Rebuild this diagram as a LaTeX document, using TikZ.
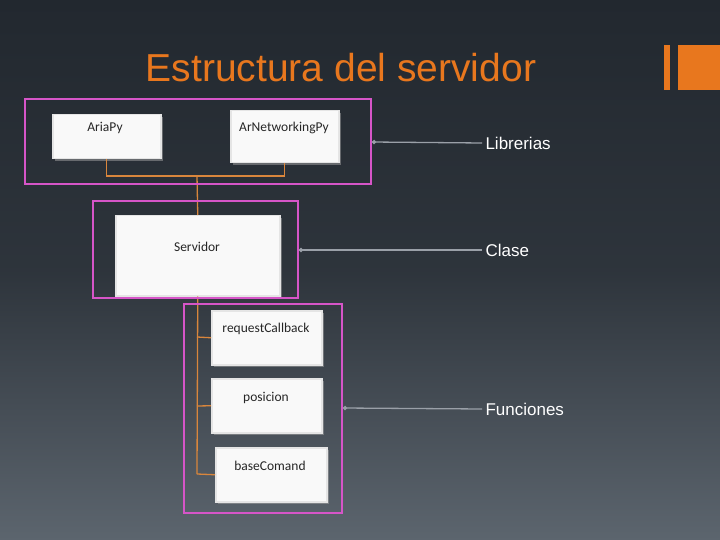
\documentclass[tikz,border=0pt]{standalone}
\usepackage{fontspec}
\setmainfont{Liberation Sans}
\newfontfamily\boxfont{Carlito}
\usetikzlibrary{arrows.meta,shadows}
\definecolor{bgtop}{HTML}{22282F}
\definecolor{bgbot}{HTML}{5C656E}
\definecolor{orng}{HTML}{E8771E}
\definecolor{pink}{HTML}{D655C8}
\definecolor{conn}{HTML}{D9863C}
\definecolor{arr}{HTML}{9AA0A8}
\tikzset{
 item/.style={draw=white!80!gray, line width=1.5pt, fill=white!95!gray, minimum width=#1, anchor=north west, drop shadow={shadow xshift=2pt, shadow yshift=-2pt, fill=gray!70}},
 itxt/.style={font=\boxfont\fontsize{13.5}{15}\selectfont, text=black!85, inner sep=0},
 grp/.style={draw=pink, line width=2.2pt},
 link/.style={conn, line width=1.3pt},
 pointer/.style={arr, line width=1.3pt, -{Circle[length=4pt]}},
 lbl/.style={anchor=west, text=white, font=\fontsize{17}{19}\selectfont}
}
\begin{document}
\begin{tikzpicture}[x=1pt,y=-1pt]
\shade[top color=bgtop, bottom color=bgbot, middle color=bgtop!80!bgbot] (0,0) rectangle (720,540);
\useasboundingbox (0,0) rectangle (720,540);
\node[text=orng, font=\fontsize{39}{43}\selectfont] (title) at (341,68) {Estructura del servidor};
\fill[orng] (664,45) rectangle (670,90);
\fill[orng] (678,45) rectangle (720,90);
% boxes
\node[item=108pt, minimum height=44pt] (aria) at (52,114) {};
\node[item=108pt, minimum height=52pt] (arnet) at (230,110) {};
\node[item=164pt, minimum height=80pt] (serv) at (115,215) {};
\node[item=110pt, minimum height=54pt] (req) at (211,310) {};
\node[item=110pt, minimum height=54pt] (pos) at (211,378) {};
\node[item=111pt, minimum height=54pt] (base) at (215,447) {};
\node[itxt] (taria) at (105,128) {AriaPy};
\node[itxt] (tarnet) at (284,128) {ArNetworkingPy};
\node[itxt] (tserv) at (197,247) {Servidor};
\node[itxt] (treq) at (266,329) {requestCallback};
\node[itxt] (tpos) at (266,398) {posicion};
\node[itxt] (tbase) at (270,466) {baseComand};
% connectors
\coordinate (j1) at (197,176);
\draw[link] (aria.south) |- (j1);
\draw[link] (arnet.south) |- (j1);
\draw[link] (j1) -- (serv.north);
\coordinate (t) at (197,474);
\draw[link] (serv.south) -- (t);
\draw[link] (197,337) -- (req.west);
\draw[link] (197,406) -- (pos.west);
\draw[link] (t) -- (base.west);
% groups
\draw[grp] (25,99) rectangle (371,184);
\draw[grp] (93,201) rectangle (298,298);
\draw[grp] (184,304) rectangle (342,513);
\coordinate (g1) at (372,142);
\coordinate (g2) at (299,250);
\coordinate (g3) at (343,408);
% labels
\node[lbl] (l1) at (482,143) {Librerias};
\node[lbl] (l2) at (482,250) {Clase};
\node[lbl] (l3) at (482,409) {Funciones};
\draw[pointer] (l1.west) -- (g1);
\draw[pointer] (l2.west) -- (g2);
\draw[pointer] (l3.west) -- (g3);
\end{tikzpicture}
\end{document}
